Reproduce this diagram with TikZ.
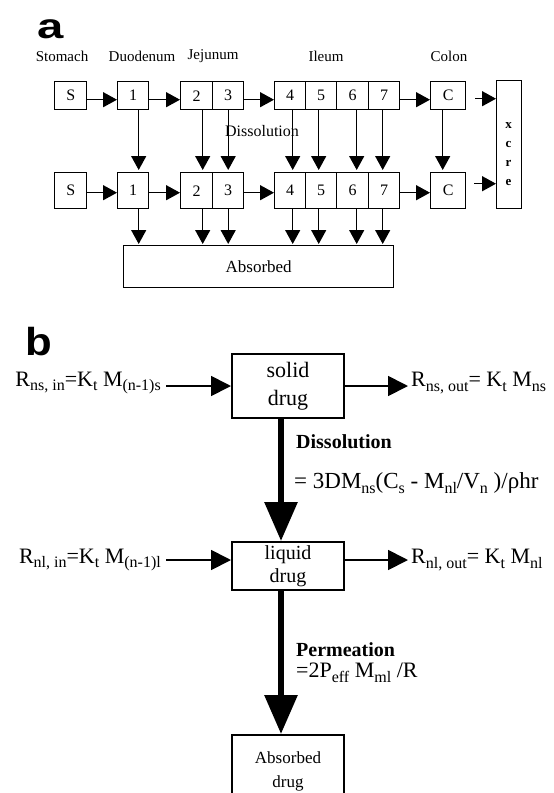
\documentclass[tikz,border=0pt]{standalone}
\usepackage{fontspec}
\setmainfont{Liberation Serif}
\newfontfamily\hvfont{Liberation Sans}
\usetikzlibrary{arrows.meta}
\newcommand\sbx[1]{\raisebox{-0.22em}{\fontsize{16}{16}\selectfont #1}}
\tikzset{
  abox/.style={draw, line width=1.4pt, inner sep=0pt, minimum height=28pt, anchor=north west, font=\fontsize{16}{16}\selectfont},
  bbox/.style={abox, minimum height=36pt},
  aarr/.style={line width=1.4pt, -{Triangle[length=14pt,width=15pt]}},
  alab/.style={inner sep=0pt, font=\fontsize{15}{15}\selectfont},
  dbox/.style={draw, line width=2pt, inner sep=0pt, anchor=north west, minimum width=112pt, align=center},
  ftxt/.style={inner sep=0pt, font=\fontsize{22}{22}\selectfont},
  barr/.style={line width=1.8pt, -{Triangle[length=20pt,width=20pt]}},
  tarr/.style={line width=6pt, -{Triangle[length=39pt,width=32pt]}},
  bigl/.style={inner sep=0pt, anchor=base west, font=\hvfont\bfseries}
}
\begin{document}
\begin{tikzpicture}[x=1pt,y=-1pt]
\useasboundingbox (0,0) rectangle (554,793);
% ---------- part a ----------
\node[bigl, font=\hvfont\bfseries\fontsize{35}{35}\selectfont] (la) at (37,38) {\scalebox{1.35}[1]{a}};
\node[alab] (lS) at (62,56) {Stomach};
\node[alab] (lD) at (142,56) {Duodenum};
\node[alab] (lJ) at (213,56) {Jejunum};
\node[alab] (lI) at (326,56) {Ileum};
\node[alab] (lCo) at (449,56) {Colon};
% top row
\node[abox, minimum width=32pt] (tS) at (54,81) {S};
\node[abox, minimum width=31pt] (t1) at (117,81) {1};
\node[abox, minimum width=32pt] (t2) at (180,81) {2};
\node[abox, minimum width=31pt] (t3) at (212,81) {3};
\node[abox, minimum width=31pt] (t4) at (274,81) {4};
\node[abox, minimum width=31pt] (t5) at (305,81) {5};
\node[abox, minimum width=32pt] (t6) at (336,81) {6};
\node[abox, minimum width=31pt] (t7) at (368,81) {7};
\node[abox, minimum width=35pt] (tC) at (430,81) {C};
% bottom row
\node[bbox, minimum width=32pt] (bS) at (54,172) {S};
\node[bbox, minimum width=31pt] (b1) at (117,172) {1};
\node[bbox, minimum width=32pt] (b2) at (180,172) {2};
\node[bbox, minimum width=31pt] (b3) at (212,172) {3};
\node[bbox, minimum width=31pt] (b4) at (274,172) {4};
\node[bbox, minimum width=31pt] (b5) at (305,172) {5};
\node[bbox, minimum width=32pt] (b6) at (336,172) {6};
\node[bbox, minimum width=31pt] (b7) at (368,172) {7};
\node[bbox, minimum width=35pt] (bC) at (430,172) {C};
% excretion box
\node[draw, line width=1.4pt, anchor=north west, minimum width=25pt, minimum height=128pt, inner sep=0pt] (xc) at (496,80) {};
\node[inner sep=0pt, align=center, font=\bfseries\fontsize{13}{19}\selectfont] (xtxt) at (508.5,154) {x\\c\\r\\e};
% absorbed
\node[draw, line width=1.4pt, anchor=north west, minimum width=270pt, minimum height=42pt, inner sep=0pt, font=\fontsize{17}{17}\selectfont] (ab) at (123,245) {Absorbed};
% horizontal arrows
\draw[aarr] ([yshift=-4pt]tS.east) -- ([yshift=-4pt]t1.west);
\draw[aarr] ([yshift=-4pt]t1.east) -- ([yshift=-4pt]t2.west);
\draw[aarr] ([yshift=-4pt]t3.east) -- ([yshift=-4pt]t4.west);
\draw[aarr] ([yshift=-4pt]t7.east) -- ([yshift=-4pt]tC.west);
\draw[aarr, shorten <=9pt] ([yshift=-3pt]tC.east) -- ([yshift=-3pt]tC.east -| xc.west);
\draw[aarr] ([yshift=-2pt]bS.east) -- ([yshift=-2pt]b1.west);
\draw[aarr] ([yshift=-2pt]b1.east) -- ([yshift=-2pt]b2.west);
\draw[aarr] ([yshift=-2pt]b3.east) -- ([yshift=-2pt]b4.west);
\draw[aarr] ([yshift=-2pt]b7.east) -- ([yshift=-2pt]bC.west);
\draw[aarr, shorten <=8pt] ([yshift=7pt]bC.east) -- ([yshift=7pt]bC.east -| xc.west);
% vertical arrows
\foreach \n/\dx in {1/5.5,2/6,3/0,4/2.5,5/-2.5,6/4,7/-1.5,C/-5.5}
  \draw[aarr, shorten >=2pt] ([xshift=\dx pt]t\n.south) -- ([xshift=\dx pt]b\n.north);
\foreach \n/\dx in {1/5.5,2/6,3/0,4/2.5,5/-2.5,6/4,7/-1.5}
  \draw[aarr, shorten >=1pt] ([xshift=\dx pt]b\n.south) -- ([xshift=\dx pt]b\n.south |- ab.north);
\node[inner sep=0pt, font=\fontsize{16}{16}\selectfont] (dis) at (262,131) {Dissolution};
% ---------- part b ----------
\node[bigl, font=\hvfont\bfseries\fontsize{39}{39}\selectfont] (lb) at (25,355) {\scalebox{1.12}[1]{b}};
\node[dbox, minimum height=64pt, font=\fontsize{22}{28}\selectfont] (solid) at (231,353) {solid\\drug};
\node[dbox, minimum height=48pt, font=\fontsize{20}{23}\selectfont] (liquid) at (231,541) {liquid\\drug};
\node[dbox, minimum height=72pt, font=\fontsize{17}{24}\selectfont] (absd) at (231,734) {Absorbed\\drug};
\node[ftxt, anchor=east] (rin) at (161,383) {R\sbx{ns, in}=K\sbx{t} M\sbx{(n-1)s}};
\node[ftxt, anchor=west] (rout) at (411,383) {R\sbx{ns, out}= K\sbx{t} M\sbx{ns}};
\node[ftxt, anchor=east] (lin) at (161,560) {R\sbx{nl, in}=K\sbx{t} M\sbx{(n-1)l}};
\node[ftxt, anchor=west] (lout) at (411,560) {R\sbx{nl, out}= K\sbx{t} M\sbx{nl}};
\draw[barr] ([xshift=5pt]rin.east |- solid.west) -- (solid.west);
\draw[barr, shorten >=3pt] (solid.east) -- (solid.east -| rout.west);
\draw[barr] ([xshift=5pt]lin.east) -- (lin.east -| liquid.west);
\draw[barr, shorten >=3pt] (lout.west -| liquid.east) -- (lout.west);
\draw[tarr] ([xshift=-7pt]solid.south) -- ([xshift=-7pt]liquid.north);
\draw[tarr] ([xshift=-7pt]liquid.south) -- ([xshift=-7pt]absd.north);
\node[inner sep=0pt, anchor=west, font=\bfseries\fontsize{20}{20}\selectfont] (dlab) at (296,442) {Dissolution};
\node[inner sep=0pt, anchor=west, font=\fontsize{23}{23}\selectfont] (dform) at (294,483) {= 3DM\sbx{ns}(C\sbx{s} - M\sbx{nl}/V\sbx{n} )/ρhr};
\node[inner sep=0pt, anchor=west, font=\bfseries\fontsize{20}{20}\selectfont] (plab) at (296,650) {Permeation};
\node[ftxt, anchor=west] (pform) at (296,673) {=2P\sbx{eff} M\sbx{ml} /R};
\end{tikzpicture}
\end{document}
